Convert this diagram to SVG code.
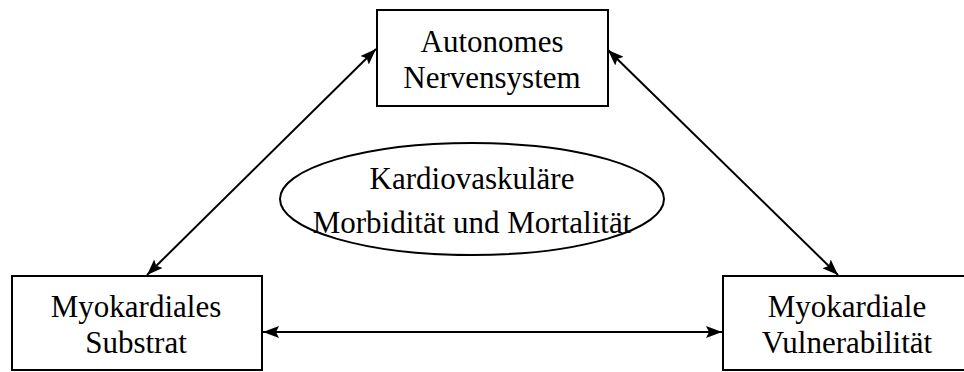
<svg xmlns="http://www.w3.org/2000/svg" width="964" height="372" viewBox="0 0 964 372">
<defs>
<style>
.box{fill:#fff;stroke:#000;stroke-width:2}
.ell{fill:none;stroke:#000;stroke-width:2}
.t{font-family:"Liberation Serif","Times New Roman",serif;font-size:31px;fill:#000;text-anchor:middle}
.c{stroke:#000;stroke-width:2;fill:none;marker-start:url(#ah);marker-end:url(#ah)}
</style>
<marker id="ah" viewBox="0 0 16 12" refX="16" refY="6" markerWidth="16" markerHeight="12" markerUnits="userSpaceOnUse" orient="auto-start-reverse">
<path d="M0,0 L16,6 L0,12 L3,6 z" fill="#000"/>
</marker>
</defs>
<rect width="964" height="372" fill="#fff"/>
<g id="connectors">
<line class="c" x1="147" y1="275" x2="376" y2="49"/>
<line class="c" x1="608" y1="50" x2="838" y2="275"/>
<line class="c" x1="263" y1="332" x2="722" y2="332"/>
</g>
<g id="n1">
<rect class="box" x="377" y="10" width="231" height="96"/>
<text class="t" x="492" y="52">Autonomes</text>
<text class="t" x="492" y="88">Nervensystem</text>
</g>
<g id="n2">
<ellipse class="ell" cx="472" cy="199" rx="192" ry="56"/>
<text class="t" x="472" y="189">Kardiovaskuläre</text>
<text class="t" x="472" y="233">Morbidität und Mortalität</text>
</g>
<g id="n3">
<rect class="box" x="12" y="276" width="250" height="94"/>
<text class="t" x="136" y="317">Myokardiales</text>
<text class="t" x="136" y="353">Substrat</text>
</g>
<g id="n4">
<rect class="box" x="723" y="276" width="250" height="94"/>
<text class="t" x="847" y="317">Myokardiale</text>
<text class="t" x="847" y="353">Vulnerabilität</text>
</g>
</svg>
